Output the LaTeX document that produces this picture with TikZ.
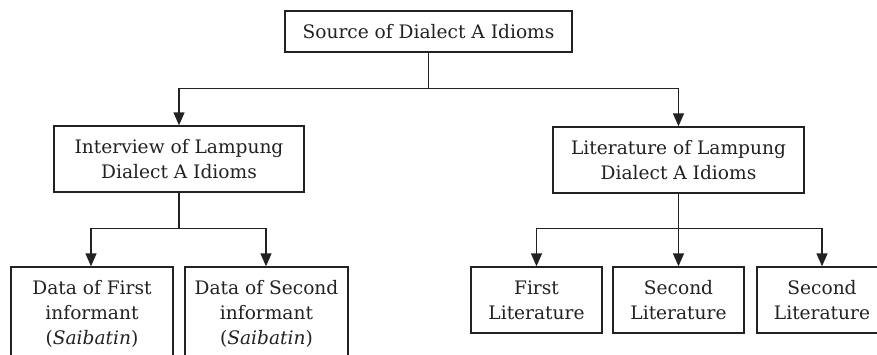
\documentclass[tikz,border=0pt]{standalone}
\usepackage{fontspec}
\setmainfont{DejaVu Serif}
\usetikzlibrary{arrows.meta}
\definecolor{ink}{HTML}{222222}
\tikzset{
  box/.style={draw=ink, line width=1.4pt, rectangle, inner sep=0pt, align=center,
    text=ink, font=\fontsize{18.6}{25}\selectfont},
  arr/.style={draw=ink, line width=1.4pt, -{Triangle[length=13pt,width=11pt]}},
  ln/.style={draw=ink, line width=1.4pt}
}
\begin{document}
\begin{tikzpicture}[x=1pt,y=-1pt]
\useasboundingbox (0,0) rectangle (877,354);
\clip (0,0) rectangle (877,354);
\fill[white] (0,0) rectangle (877,354);
\node[box, minimum width=287pt, minimum height=41pt] (src) at (428.5,31.5) {Source of Dialect A Idioms};
\node[box, minimum width=250pt, minimum height=66pt] (int) at (179,159) {Interview of Lampung\\Dialect A Idioms};
\node[box, minimum width=251pt, minimum height=66pt] (lit) at (678.5,160) {Literature of Lampung\\Dialect A Idioms};
\node[box, minimum width=162pt, minimum height=93pt] (d1) at (92,313.5) {Data of First\\informant\\(\textit{Saibatin})};
\node[box, minimum width=163pt, minimum height=93pt] (d2) at (266.5,313.5) {Data of Second\\informant\\(\textit{Saibatin})};
\node[box, minimum width=131pt, minimum height=66pt] (l1) at (536.5,300) {First\\Literature};
\node[box, minimum width=131pt, minimum height=66pt] (l2) at (678.5,300) {Second\\Literature};
\node[box, minimum width=130pt, minimum height=66pt] (l3) at (822,300) {Second\\Literature};
% connectors
\draw[ln] (src.south) -- ++(0,36) coordinate (j1);
\draw[arr] (j1) -| (int.north);
\draw[arr] (j1) -| (lit.north);
\draw[ln] (int.south) -- ++(0,36) coordinate (j2);
\draw[arr] (j2) -| (d1.north -| 91,0);
\draw[arr] (j2) -| (d2.north -| 266,0);
\draw[ln] (lit.south) -- ++(0,35) coordinate (j3);
\draw[arr] (j3) -| (l1.north);
\draw[arr] (j3) -- (l2.north);
\draw[arr] (j3) -| (l3.north);
\end{tikzpicture}
\end{document}
